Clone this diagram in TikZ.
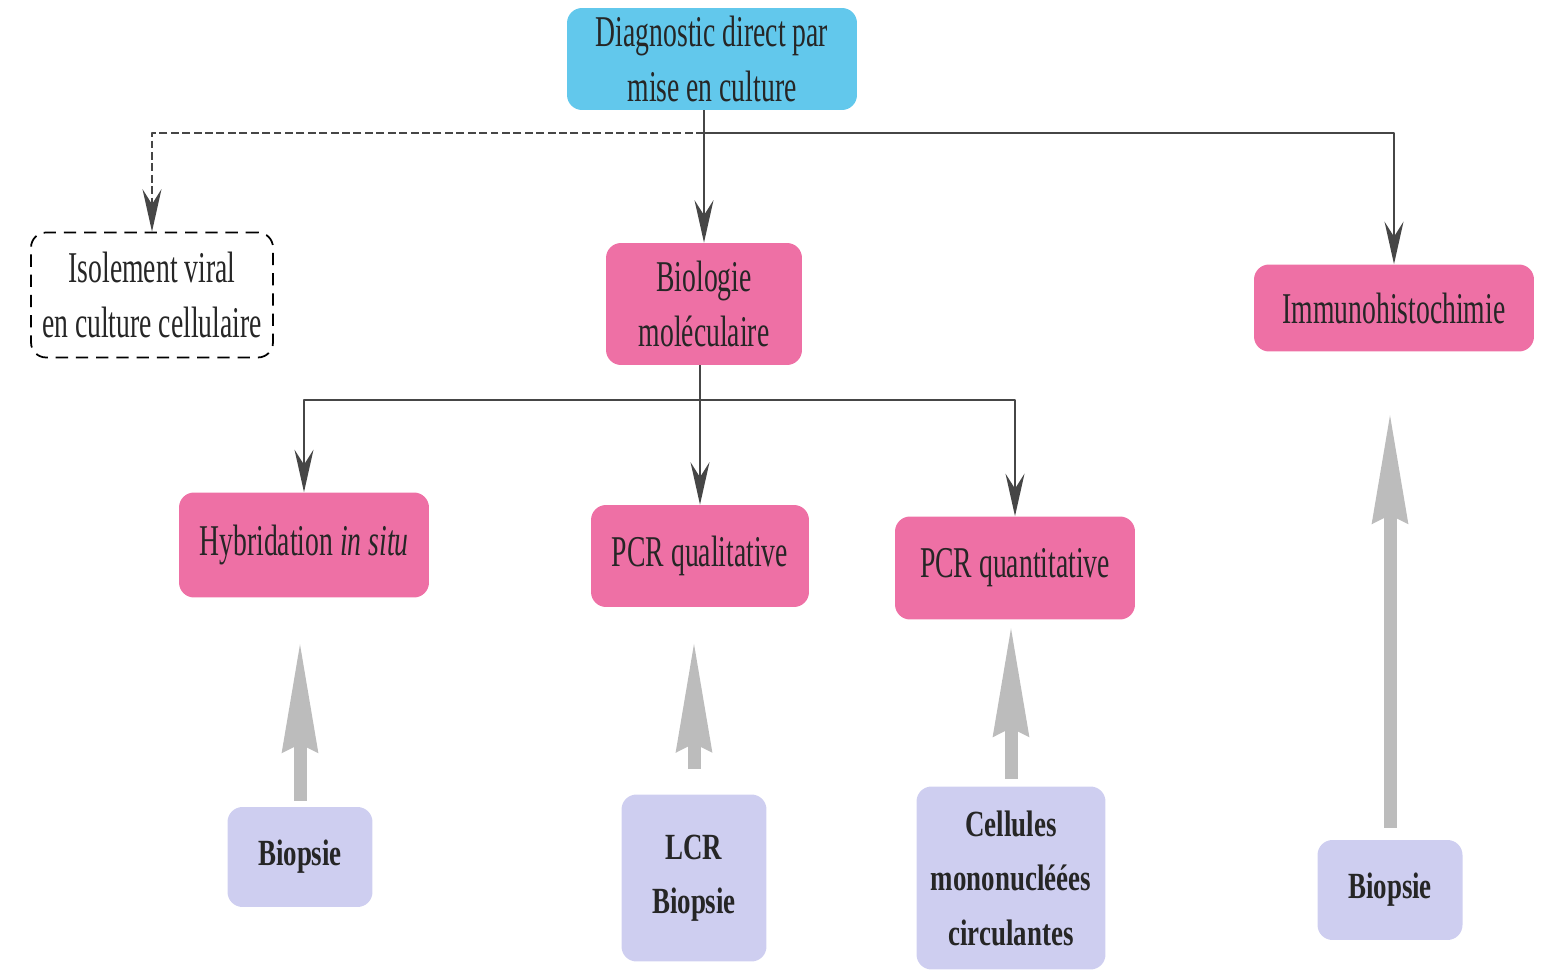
\documentclass[tikz,border=0pt]{standalone}
\usepackage{fontspec}
\setmainfont{Liberation Serif}
\newfontfamily\boxfont[FakeStretch=0.63]{Liberation Serif}
\newfontfamily\srcfont[FakeStretch=0.73]{Liberation Serif}
\usetikzlibrary{arrows.meta}
\definecolor{skyfill}{RGB}{98,200,236}
\definecolor{rosefill}{RGB}{238,112,165}
\definecolor{lilacfill}{RGB}{206,206,240}
\definecolor{linkgray}{RGB}{70,70,70}
\definecolor{feedgray}{RGB}{188,188,188}

\begin{document}
\begin{tikzpicture}[x=0.02cm,y=-0.02cm,line join=round,
  box/.style={rounded corners=0.3cm,align=center,inner sep=0pt,text=black!85,
    font=\boxfont\fontsize{25}{31}\selectfont},
  method/.style={box,fill=rosefill},
  sample/.style={box,fill=lilacfill,font=\srcfont\bfseries\fontsize{21}{31}\selectfont},
  link/.style={draw=linkgray,line width=1.1pt,-{Stealth[length=0.85cm,width=0.38cm,inset=0.3cm]}},
  feed/.style={draw=feedgray,line width=0.26cm,-{Stealth[length=2.2cm,width=0.68cm,inset=0.14cm]}}]
  \useasboundingbox (0,0) rectangle (1545,972);
  % head of the tree
  \node[box,fill=skyfill,minimum width=5.8cm,minimum height=2.04cm] (top) at (712,59)
    {Diagnostic direct par\\mise en culture};
  \node[box,draw,dash pattern=on 7pt off 4.5pt,line width=1pt,minimum width=4.84cm,minimum height=2.5cm] (iso) at (152,295)
    {Isolement viral\\en culture cellulaire};
  \node[method,minimum width=3.92cm,minimum height=2.44cm] (bio) at (704,304)
    {Biologie\\moléculaire};
  \node[method,minimum width=5.6cm,minimum height=1.74cm] (immuno) at (1394,308)
    {Immunohistochimie};
  % techniques
  \node[method,minimum width=5cm,minimum height=2.1cm] (hyb) at (304,545)
    {Hybridation \textit{in situ}};
  \node[method,minimum width=4.36cm,minimum height=2.04cm] (pcrql) at (700,556)
    {PCR qualitative};
  \node[method,minimum width=4.8cm,minimum height=2.06cm] (pcrqt) at (1015,568)
    {PCR quantitative};
  % samples
  \node[sample,minimum width=2.9cm,minimum height=2cm] (b1) at (300,857) {Biopsie};
  \node[sample,minimum width=2.9cm,minimum height=3.34cm] (b2) at (694,878) {LCR\\Biopsie};
  \node[sample,minimum width=3.78cm,minimum height=3.66cm] (b3) at (1011,878)
    {Cellules\\mononucléées\\circulantes};
  \node[sample,minimum width=2.9cm,minimum height=2cm] (b4) at (1390,890) {Biopsie};
  % connectors
  \coordinate (j1) at (704,133);
  \coordinate (j2) at (702,400);
  \draw[link] (top.south -| bio.north) -- (bio.north);
  \draw[link] (j1) -| (immuno.north);
  \draw[link,dash pattern=on 4.5pt off 2pt] (j1) -| (iso.north);
  \draw[link] (bio.south -| pcrql.north) -- (pcrql.north);
  \draw[link] (j2) -| (hyb.north);
  \draw[link] (j2) -| (pcrqt.north);
  \draw[feed,shorten >=0.86cm,shorten <=0.12cm] (b1.north) -- (b1.north |- hyb.south);
  \draw[feed,shorten >=0.66cm,shorten <=0.5cm] (b2.north) -- (b2.north |- pcrql.south);
  \draw[feed,shorten >=0.1cm,shorten <=0.14cm] (b3.north) -- (b3.north |- pcrqt.south);
  \draw[feed,shorten >=1.2cm,shorten <=0.24cm] (b4.north) -- (b4.north |- immuno.south);
\end{tikzpicture}
\end{document}
